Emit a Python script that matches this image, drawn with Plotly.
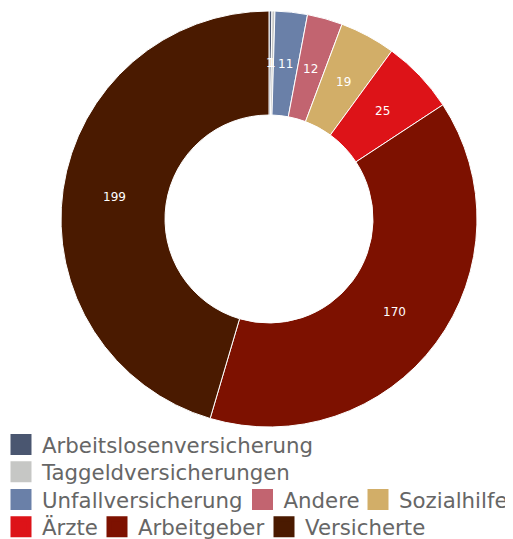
import math
import plotly.graph_objects as go

labels = ["Arbeitslosenversicherung", "Taggeldversicherungen", "Unfallversicherung",
          "Andere", "Sozialhilfe", "Ärzte", "Arbeitgeber", "Versicherte"]
values = [1, 1, 11, 12, 19, 25, 170, 199]
colors = ["#4a5670", "#c6c7c5", "#6a80a8", "#c26470", "#d2ae68", "#dd1318", "#7d1100", "#4a1a00"]
legend_rows = [1, 2, 3, 3, 3, 4, 4, 4]

OFF = 8                       # the page body margin shifts the figure by 8px
W, H = 513 - OFF, 539 - OFF   # figure size that fits in the window
CX, CY, R = 269 - OFF, 219 - OFF, 208   # pie centre / outer radius (figure px)
HOLE = 0.5

fig = go.Figure()
fig.add_trace(go.Pie(
    labels=labels, values=values, hole=HOLE, sort=False, direction="clockwise",
    rotation=0, marker=dict(colors=colors, line=dict(color="white", width=1)),
    textinfo="none", showlegend=False, hoverinfo="label+value",
    domain=dict(x=[(CX - R) / W, (CX + R) / W], y=[1 - (CY + R) / H, 1 - (CY - R) / H]),
))

# value labels at the middle of each slice (mid angle, mid ring), derived from the data
annotations = []
total = sum(values)
cum = 0
rr = R * (1 + HOLE) / 2
for v in values:
    mid = (cum + v / 2) / total
    cum += v
    th = 2 * math.pi * mid
    annotations.append(dict(
        x=(CX + rr * math.sin(th)) / W, y=(H - CY + rr * math.cos(th)) / H,
        xref="paper", yref="paper", text=str(v), showarrow=False,
        xanchor="center", yanchor="middle",
        font=dict(color="white", size=12, family="DejaVu Sans")))

# legend: one small legend per item, laid out in rows like the reference
row_y = [444.7, 472, 499.7, 527]          # screen px row centres
sym_x = [21, 21, 21, 262.5, 379, 21, 117, 284]   # screen px symbol centres

for i, (lab, col) in enumerate(zip(labels, colors)):
    key = "legend" if i == 0 else f"legend{i+1}"
    fig.add_trace(go.Scatter(
        x=[None], y=[None], mode="markers", name=lab,
        marker=dict(symbol="square", size=16, color=col, line=dict(color=col, width=5)),
        legend=key, hoverinfo="skip",
    ))

layout_legends = {}
for i, row in enumerate(legend_rows):
    key = "legend" if i == 0 else f"legend{i+1}"
    common = dict(orientation="h", y=1 - (row_y[row - 1] - OFF) / H, yanchor="middle",
                  itemwidth=32, font=dict(size=21.3, color="#666666", family="DejaVu Sans"),
                  bgcolor="rgba(0,0,0,0)", itemsizing="trace")
    if labels[i] == "Sozialhilfe":
        layout_legends[key] = dict(common, x=1, xanchor="right")
    else:
        layout_legends[key] = dict(common, x=(sym_x[i] - 29) / W, xanchor="left")

fig.update_layout(
    width=W, height=H, margin=dict(l=0, r=0, t=0, b=0, autoexpand=False),
    paper_bgcolor="white", plot_bgcolor="white",
    font=dict(family="DejaVu Sans", color="#666666"),
    xaxis=dict(visible=False), yaxis=dict(visible=False),
    annotations=annotations,
    **layout_legends,
)
fig.write_html("out.html")
